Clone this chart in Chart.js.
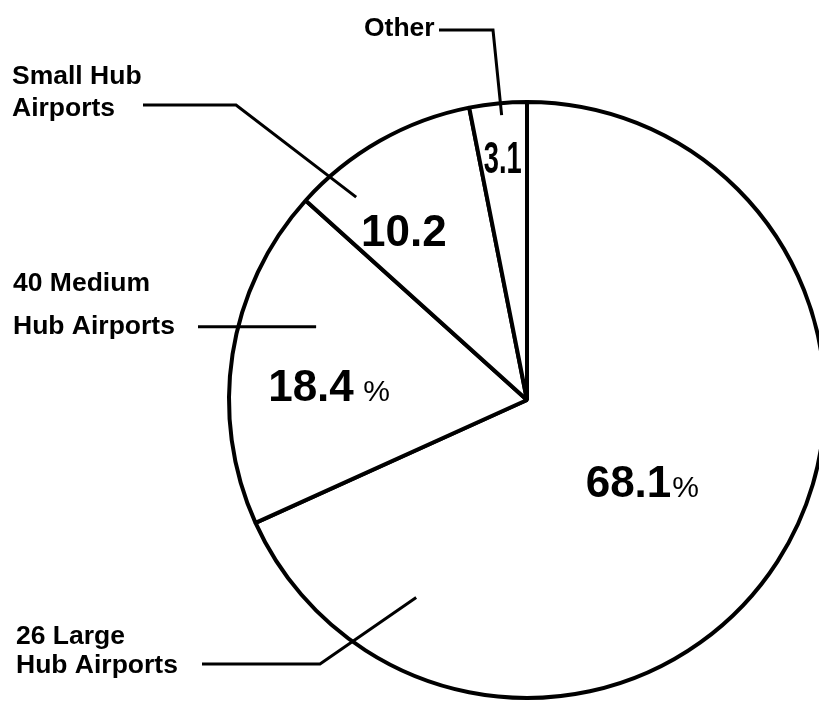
<!DOCTYPE html>
<html lang="en">
<head>
<meta charset="UTF-8" />
<title>Airport groups</title>
<script src="https://cdn.jsdelivr.net/npm/chart.js"></script>
<style>
  html, body { margin: 0; padding: 0; background: #fff; }
  #chart { display: block; }
</style>
</head>
<body>
<canvas id="chart" width="819" height="702"></canvas>
<script>
  // Airport groups, clockwise from 12 o'clock
  const groups = ["26 Large Hub Airports", "40 Medium Hub Airports", "Small Hub Airports", "Other"];
  const shares = [68.1, 18.4, 10.2, 3.1];
  const shareText = ["68.1", "18.4", "10.2", "3.1"];
  const shareSuffix = ["%", " %", "", ""];
  const calloutText = [["26 Large", "Hub Airports"], ["40 Medium", "Hub Airports"], ["Small Hub", "Airports"], ["Other"]];

  const FONT = '"Liberation Sans", Arial, Helvetica, sans-serif';

  // where the numbers sit in each slice: t = share of the slice angle, k = share of the radius
  const valuePlace = [
    { t: 0.51, k: 0.472, sx: 1 },
    { t: 0.432, k: 0.668, sx: 1 },
    { t: 0.328, k: 0.705, sx: 1 },
    { t: 0.49, k: 0.82, sx: 0.62 }
  ];

  // outside labels: text block and the bent leader that runs into the slice
  // (level: the leader stays horizontal at the height of its end point)
  const calloutPlace = [
    { x: 16, base: [644, 673], path: [[202, 664], [320, 664]], t: 0.852, k: 0.76 },
    { x: 13, base: [291, 334], path: [[198, 326]], t: 0.655, k: 0.749, level: true },
    { x: 12, base: [84, 116], path: [[143, 105], [236, 105]], t: 0.214, k: 0.89 },
    { x: 364, base: [36], path: [[439, 30], [493, 30]], t: 0.545, k: 0.96 }
  ];

  function slicePoint(arc, t, k) {
    const p = arc.getProps(["x", "y", "startAngle", "endAngle", "outerRadius"], true);
    const a = p.startAngle + t * (p.endAngle - p.startAngle);
    return { x: p.x + Math.cos(a) * k * p.outerRadius, y: p.y + Math.sin(a) * k * p.outerRadius };
  }

  const labelPlugin = {
    id: "sliceLabels",
    afterDatasetsDraw(chart) {
      const ctx = chart.ctx;
      const arcs = chart.getDatasetMeta(0).data;
      ctx.save();
      ctx.fillStyle = "#000";
      ctx.strokeStyle = "#000";
      ctx.textBaseline = "alphabetic";
      ctx.textAlign = "left";

      arcs.forEach((arc, i) => {
        // number inside the slice
        const vp = valuePlace[i];
        const c = slicePoint(arc, vp.t, vp.k);
        ctx.font = "bold 44px " + FONT;
        const wNum = ctx.measureText(shareText[i]).width * vp.sx;
        ctx.font = "30px " + FONT;
        const wSuf = shareSuffix[i] ? ctx.measureText(shareSuffix[i]).width : 0;
        const x = c.x - (wNum + wSuf) / 2;
        const base = c.y + 16;
        ctx.save();
        ctx.translate(x, base);
        ctx.scale(vp.sx, 1);
        ctx.font = "bold 44px " + FONT;
        ctx.fillText(shareText[i], 0, 0);
        ctx.restore();
        if (shareSuffix[i]) {
          ctx.font = "30px " + FONT;
          ctx.fillText(shareSuffix[i], x + wNum + 1, base);
        }

        // outside label and its leader
        const cp = calloutPlace[i];
        ctx.font = "bold 26.5px " + FONT;
        calloutText[i].forEach((line, j) => ctx.fillText(line, cp.x, cp.base[j]));
        const end = slicePoint(arc, cp.t, cp.k);
        const pts = cp.path.map(([px, py]) => [px, cp.level ? end.y : py]);
        ctx.lineWidth = 3;
        ctx.lineJoin = "miter";
        ctx.beginPath();
        ctx.moveTo(pts[0][0], pts[0][1]);
        for (let j = 1; j < pts.length; j++) ctx.lineTo(pts[j][0], pts[j][1]);
        ctx.lineTo(end.x, end.y);
        ctx.stroke();
      });
      ctx.restore();
    }
  };

  new Chart(document.getElementById("chart"), {
    type: "pie",
    data: {
      labels: groups,
      datasets: [{
        data: shares,
        backgroundColor: "#ffffff",
        borderColor: "#000000",
        borderWidth: 4,
        clip: false
      }]
    },
    options: {
      responsive: false,
      animation: false,
      radius: 298,
      layout: { padding: { left: 235, top: 98, right: 0, bottom: 0 } },
      plugins: {
        legend: { display: false },
        tooltip: { enabled: false }
      }
    },
    plugins: [labelPlugin]
  });
</script>
</body>
</html>
